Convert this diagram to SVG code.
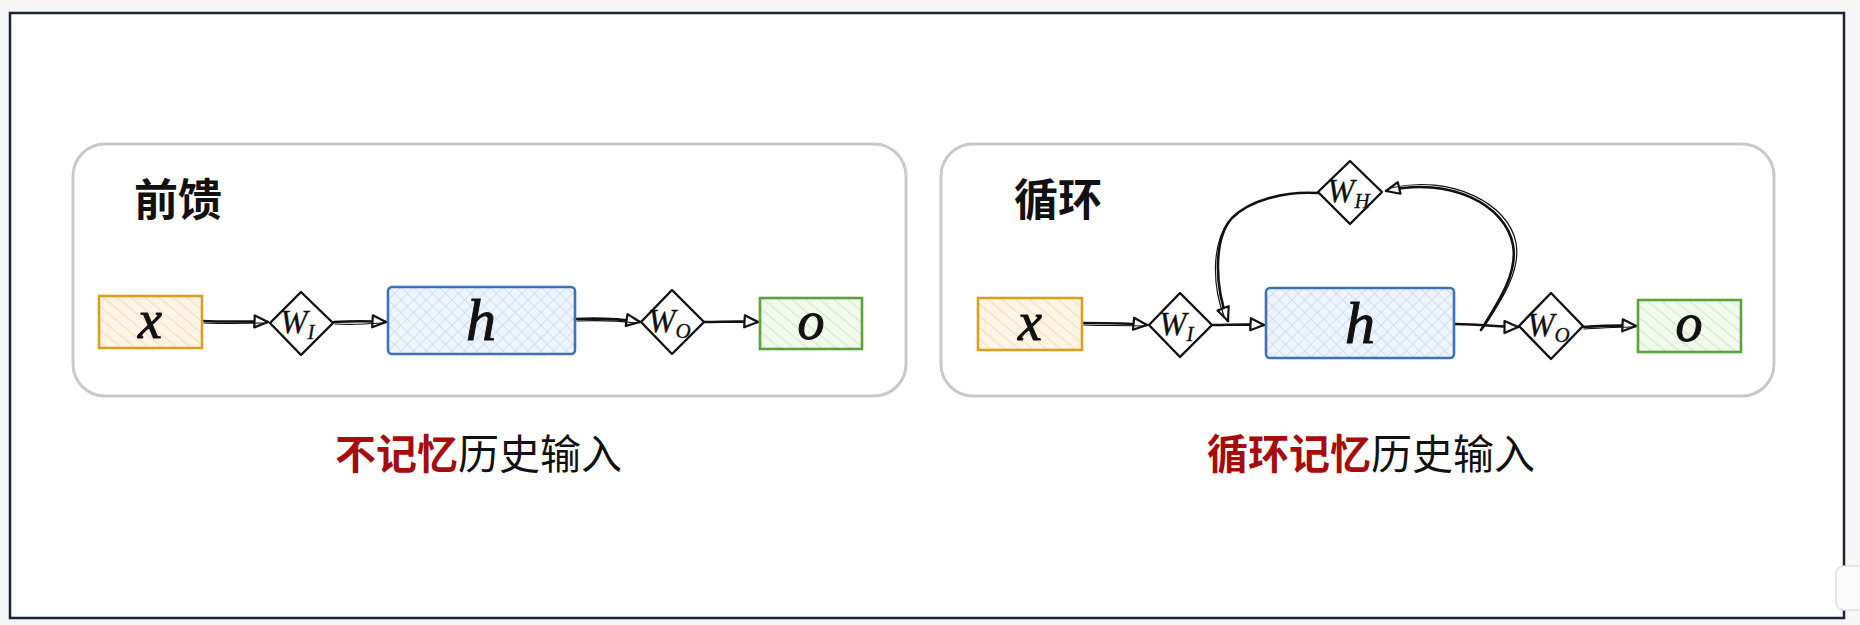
<svg xmlns="http://www.w3.org/2000/svg" width="1860" height="625" viewBox="0 0 1860 625">
<style>
.frame{fill:#ffffff;stroke:#1d2235;stroke-width:2.5}
.panel{fill:#ffffff;stroke:#c9c9c9;stroke-width:3}
.title{font-family:"Noto Sans CJK SC","Noto Sans",sans-serif;font-weight:700;font-size:44px;fill:#111}
.cap{font-family:"Noto Sans CJK SC","Noto Sans",sans-serif;font-size:41px;fill:#111}
.red{fill:#a50d0d;font-weight:700}
.math{font-family:"Liberation Serif",serif;font-style:italic;fill:#111;stroke:#111;stroke-width:1}
.var{font-size:54px}
.wl{font-size:33px;font-family:"Liberation Serif",serif;font-style:italic;fill:#111;stroke:#111;stroke-width:0.3}
.sub{font-size:21px}
.dia{fill:#ffffff;stroke:#111;stroke-width:2.4;stroke-linejoin:round}
.edge{fill:none;stroke:#111;stroke-width:2.6;stroke-linecap:round}
.edge2{fill:none;stroke:#111;stroke-width:1.2;stroke-linecap:round}
.bx{stroke:#d9a020;stroke-width:2.6;fill:url(#hO)}
.bh{stroke:#3f72b5;stroke-width:2.6;fill:url(#hB)}
.bg{stroke:#5aa33a;stroke-width:2.6;fill:url(#hG)}
</style>
<defs>
<pattern id="hO" width="9" height="9" patternUnits="userSpaceOnUse" patternTransform="rotate(-50)">
<rect width="9" height="9" fill="#fdf4e6"/><line x1="0" y1="0" x2="0" y2="9" stroke="#f1cf9c" stroke-width="1.3"/></pattern>
<pattern id="hG" width="9" height="9" patternUnits="userSpaceOnUse" patternTransform="rotate(-50)">
<rect width="9" height="9" fill="#f1f9ec"/><line x1="0" y1="0" x2="0" y2="9" stroke="#bfe0ab" stroke-width="1.3"/></pattern>
<pattern id="hB" width="9" height="9" patternUnits="userSpaceOnUse" patternTransform="rotate(45)">
<rect width="9" height="9" fill="#eef4fc"/><line x1="0" y1="0" x2="0" y2="9" stroke="#bcd3ef" stroke-width="1.2"/><line x1="0" y1="0" x2="9" y2="0" stroke="#bcd3ef" stroke-width="1.2"/></pattern>
<marker id="ar" viewBox="0 0 16 16" refX="15" refY="8" markerWidth="16" markerHeight="16" markerUnits="userSpaceOnUse" orient="auto">
<path d="M1.5,2 L15,8 L1.5,14 Z" fill="#fff" stroke="#111" stroke-width="2.2" stroke-linejoin="round"/></marker>
</defs>

<rect x="0" y="0" width="1860" height="625" fill="#f6f6f6"/>
<rect class="frame" x="10" y="13" width="1834" height="605"/>
<rect x="1836" y="566" width="40" height="44" rx="8" fill="#fbfbfb" stroke="#dedede" stroke-width="1.5"/>

<g id="panel-ff">
<rect class="panel" x="73" y="144" width="833" height="252" rx="32"/>
<text class="title" x="134" y="216">前馈</text>
</g>
<g id="panel-rnn">
<rect class="panel" x="941" y="144" width="833" height="252" rx="32"/>
<text class="title" x="1014" y="216">循环</text>
</g>

<g id="connectors">
<path class="edge" d="M203,321 C225,322 245,321 268,322" marker-end="url(#ar)"/>
<path class="edge2" d="M204,323 C226,324 246,323 264,323"/>
<path class="edge" d="M334,322 C352,321 368,321 386,322" marker-end="url(#ar)"/>
<path class="edge2" d="M335,324 C352,325 368,324 382,323"/>
<path class="edge" d="M576,319 C600,318 620,319 640,322" marker-end="url(#ar)"/>
<path class="edge2" d="M577,321 C600,320 620,321 636,323"/>
<path class="edge" d="M704,322 C722,322 740,321 758,322" marker-end="url(#ar)"/>

<path class="edge" d="M1083,323 C1105,323 1125,323 1147,325" marker-end="url(#ar)"/>
<path class="edge2" d="M1084,325 C1105,326 1125,325 1143,326"/>
<path class="edge" d="M1213,325 C1230,325 1247,324 1264,325" marker-end="url(#ar)"/>
<path class="edge" d="M1455,324 C1480,324 1500,327 1518,327" marker-end="url(#ar)"/>
<path class="edge" d="M1583,327 C1600,326 1618,325 1636,326" marker-end="url(#ar)"/>
<path class="edge2" d="M1584,329 C1600,328 1618,327 1632,327"/>
<path class="edge" d="M1481,330 C1500,300 1518,272 1513,245 C1506,205 1450,176 1386,191" marker-end="url(#ar)"/>
<path class="edge2" d="M1484,327 C1503,298 1521,270 1516,243 C1509,204 1452,174 1390,188"/>
<path class="edge" d="M1318,193 C1285,191 1250,200 1232,218 C1214,238 1214,285 1228,321" marker-end="url(#ar)"/>
<path class="edge2" d="M1228,222 C1212,245 1212,285 1224,316"/>
</g>

<g id="ff-x"><rect class="bx" x="99" y="296" width="103" height="52"/><text class="math var" x="150" y="338" text-anchor="middle">x</text></g>
<g id="ff-wi"><path class="dia" d="M301,292 L333,323 L301,355 L270,323 Z"/><text class="wl" x="280" y="333">W<tspan class="sub" dy="6">I</tspan></text></g>
<g id="ff-h"><rect class="bh" x="388" y="287" width="187" height="67" rx="4"/><text class="math" x="481" y="340" text-anchor="middle" font-size="60">h</text></g>
<g id="ff-wo"><path class="dia" d="M672,290 L704,322 L672,354 L641,322 Z"/><text class="wl" x="648" y="332">W<tspan class="sub" dy="6">O</tspan></text></g>
<g id="ff-o"><rect class="bg" x="760" y="298" width="102" height="51"/><text class="math var" x="811" y="339" text-anchor="middle">o</text></g>

<g id="rnn-x"><rect class="bx" x="978" y="298" width="104" height="52"/><text class="math var" x="1030" y="340" text-anchor="middle">x</text></g>
<g id="rnn-wi"><path class="dia" d="M1180,293 L1212,325 L1180,357 L1149,325 Z"/><text class="wl" x="1159" y="335">W<tspan class="sub" dy="6">I</tspan></text></g>
<g id="rnn-h"><rect class="bh" x="1266" y="288" width="188" height="70" rx="4"/><text class="math" x="1360" y="343" text-anchor="middle" font-size="60">h</text></g>
<g id="rnn-wo"><path class="dia" d="M1551,293 L1583,326 L1551,359 L1519,326 Z"/><text class="wl" x="1527" y="336">W<tspan class="sub" dy="6">O</tspan></text></g>
<g id="rnn-o"><rect class="bg" x="1638" y="300" width="103" height="52"/><text class="math var" x="1689" y="341" text-anchor="middle">o</text></g>
<g id="rnn-wh"><path class="dia" d="M1350,161 L1382,192 L1350,224 L1318,192 Z"/><text class="wl" x="1327" y="202">W<tspan class="sub" dy="6">H</tspan></text></g>

<text class="cap" x="335" y="469"><tspan class="red">不记忆</tspan>历史输入</text>
<text class="cap" x="1207" y="469"><tspan class="red">循环记忆</tspan>历史输入</text>
</svg>
